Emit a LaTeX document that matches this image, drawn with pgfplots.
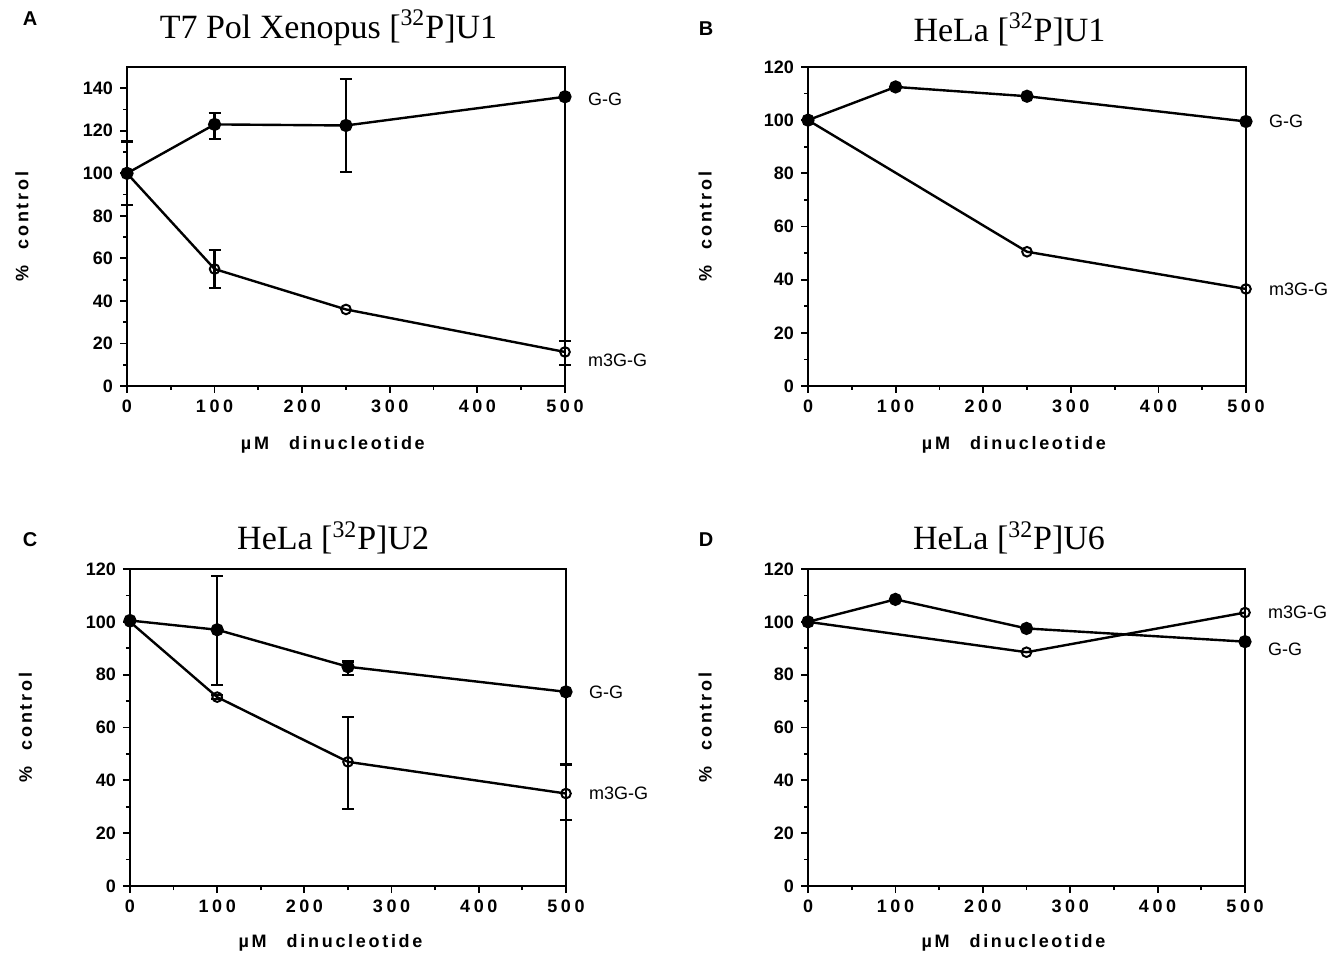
\documentclass[border=0pt]{standalone}
\usepackage{fontspec}
\setmainfont{Liberation Sans}
\newfontfamily\titlefont{Liberation Serif}
\usepackage{pgfplots}
\pgfplotsset{compat=1.18}

\pgfplotsset{
  panel/.style={
    scale only axis, width=219pt, height=159.5pt,
    xmin=0, xmax=500, ymin=0,
    xtick={0,100,...,500}, minor x tick num=1, minor y tick num=1,
    xtick pos=bottom, ytick pos=left, tick align=outside,
    major tick length=3.5pt, minor tick length=2pt,
    axis line style={line width=1pt},
    every tick/.style={black, line width=0.9pt},
    /pgf/number format/assume math mode=true,
    yticklabel style={font=\fontsize{9}{10}\selectfont\bfseries},
    xticklabel style={font=\fontsize{9}{10}\selectfont\bfseries\addfontfeature{LetterSpace=20}},
    clip=false,
    xlabel={µM\hspace{10pt}dinucleotide},
    ylabel={\%\hspace{8pt}control},
    label style={font=\fontsize{9}{10}\selectfont\bfseries\addfontfeature{LetterSpace=15}},
    xlabel style={at={(axis description cs:0.47,-0.185)}, anchor=center},
    ylabel style={at={(axis description cs:-0.24,0.5)}, anchor=center},
    title style={at={(axis description cs:0.46,1.085)}, anchor=center,
      font=\titlefont\fontsize{17}{20}\selectfont},
  },
  gg/.style={black, line width=1.2pt, mark=*, mark size=2.7pt,
    mark options={solid, fill=black}},
  mg/.style={black, line width=1.2pt, mark=o, mark size=2.4pt,
    mark options={solid, fill=white, line width=1pt}},
  eb/.style={black, only marks, mark=*, mark size=0pt, forget plot,
    error bars/.cd, y dir=both, y explicit,
    error bar style={line width=1.1pt},
    error mark options={rotate=90, mark size=3pt, line width=1.1pt}},
}
\tikzset{lab/.style={anchor=west, xshift=8pt, font=\fontsize{9}{10}\selectfont}}

\begin{document}
\begin{tikzpicture}
\path[use as bounding box] (0,0) rectangle (666.5pt,476.5pt);

% A
\begin{axis}[panel, at={(63.5pt,283.5pt)}, anchor=south west,
  ymax=150, ytick={0,20,...,140},
  title={T7 Pol Xenopus [\textsuperscript{32}P]U1}]
\addplot[eb] coordinates {
  (0,100) += (0,15) -= (0,15)
  (100,123) += (0,5.5) -= (0,7)
  (250,122.5) += (0,22) -= (0,22)
};
\addplot[eb] coordinates {
  (100,55) += (0,9) -= (0,9)
  (500,16) += (0,5) -= (0,6)
};
\addplot[gg] coordinates {(0,100) (100,123) (250,122.5) (500,136)};
\addplot[mg] coordinates {(0,100) (100,55) (250,36) (500,16)};
\node[lab] at (axis cs:500,135) {G-G};
\node[lab] at (axis cs:500,12) {m3G-G};
\end{axis}

% B
\begin{axis}[panel, at={(404pt,283.5pt)}, anchor=south west,
  ymax=120, ytick={0,20,...,120},
  ylabel style={at={(axis description cs:-0.235,0.5)}},
  title style={at={(axis description cs:0.46,1.08)}},
  title={HeLa [\textsuperscript{32}P]U1}]
\addplot[gg] coordinates {(0,100) (100,112.5) (250,109) (500,99.5)};
\addplot[mg] coordinates {(0,100) (250,50.5) (500,36.5)};
\node[lab] at (axis cs:500,99.5) {G-G};
\node[lab] at (axis cs:500,36.5) {m3G-G};
\end{axis}

% C
\begin{axis}[panel, at={(65pt,33.5pt)}, anchor=south west,
  width=218pt, height=158.5pt,
  ymax=120, ytick={0,20,...,120},
  xlabel style={at={(axis description cs:0.46,-0.18)}},
  title style={at={(axis description cs:0.466,1.06)}},
  title={HeLa [\textsuperscript{32}P]U2}]
\addplot[eb] coordinates {
  (100,97) += (0,20.5) -= (0,21)
  (250,83) += (0,2) -= (0,3)
};
\addplot[eb] coordinates {
  (100,71.5) += (0,0.8) -= (0,0.8)
  (250,47) += (0,17) -= (0,18)
  (500,35) += (0,11) -= (0,10)
};
\addplot[gg] coordinates {(0,100.5) (100,97) (250,83) (500,73.5)};
\addplot[mg] coordinates {(0,100) (100,71.5) (250,47) (500,35)};
\node[lab] at (axis cs:500,73.5) {G-G};
\node[lab] at (axis cs:500,35) {m3G-G};
\end{axis}

% D
\begin{axis}[panel, at={(404pt,33.5pt)}, anchor=south west,
  width=218.5pt, height=158.5pt,
  ymax=120, ytick={0,20,...,120},
  ylabel style={at={(axis description cs:-0.235,0.5)}},
  xlabel style={at={(axis description cs:0.47,-0.18)}},
  title style={at={(axis description cs:0.46,1.06)}},
  title={HeLa [\textsuperscript{32}P]U6}]
\addplot[gg] coordinates {(0,100) (100,108.5) (250,97.5) (500,92.5)};
\addplot[mg] coordinates {(0,100) (250,88.5) (500,103.5)};
\node[lab] at (axis cs:500,103.5) {m3G-G};
\node[lab] at (axis cs:500,89.5) {G-G};
\end{axis}

\node[font=\bfseries\fontsize{10}{12}\selectfont] at (15pt,467pt) {A};
\node[font=\bfseries\fontsize{10}{12}\selectfont] at (353pt,462pt) {B};
\node[font=\bfseries\fontsize{10}{12}\selectfont] at (15pt,206.5pt) {C};
\node[font=\bfseries\fontsize{10}{12}\selectfont] at (353pt,206.5pt) {D};
\end{tikzpicture}
\end{document}
